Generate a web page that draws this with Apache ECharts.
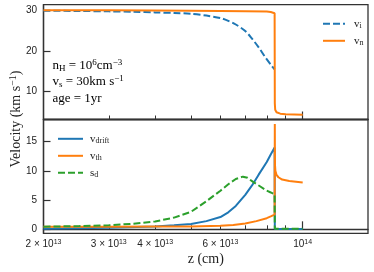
<!DOCTYPE html>
<html><head><meta charset="utf-8">
<script src="https://cdn.jsdelivr.net/npm/echarts@6/dist/echarts.min.js"></script>
<style>html,body{margin:0;padding:0;background:#fff}#c{width:374px;height:272px}</style>
</head><body><div id="c"></div>
<script>
// ---- data (z in cm, velocities in km/s) ----
const zIon = [2e13, 2.5e13, 3e13, 3.5e13, 4e13, 4.5e13, 5e13, 5.5e13, 6e13, 6.3e13, 6.6e13, 7e13, 7.3e13, 7.6e13, 7.9e13, 8.2e13, 8.4e13];
const vIon = [29.9, 29.85, 29.75, 29.65, 29.5, 29.35, 29.15, 28.7, 28.1, 27.4, 26.5, 24.9, 23.0, 20.9, 18.6, 16.6, 15.4];

const zNeutral = [2e13, 3e13, 4e13, 5e13, 6e13, 7e13, 8e13, 8.2e13, 8.3e13, 8.4e13, 8.41e13, 8.43e13, 8.5e13, 8.7e13, 9e13, 1e14];
const vNeutral = [30.0, 30.0, 29.95, 29.9, 29.85, 29.8, 29.7, 29.6, 29.5, 29.3, 7.0, 5.4, 4.8, 4.45, 4.3, 4.2];

const zDrift = [2e13, 3e13, 4e13, 4.5e13, 5e13, 5.5e13, 6e13, 6.3e13, 6.6e13, 7e13, 7.3e13, 7.6e13, 8e13, 8.2e13, 8.4e13, 8.41e13, 1e14];
const vDrift = [0.1, 0.25, 0.5, 0.7, 0.9, 1.4, 2.1, 2.9, 4.0, 5.9, 7.5, 9.3, 11.5, 12.8, 14.0, 0.05, 0.05];

const zThermal = [2e13, 3e13, 4e13, 5e13, 6e13, 6.5e13, 7e13, 7.5e13, 8e13, 8.2e13, 8.4e13, 8.41e13, 8.415e13, 8.42e13, 8.44e13, 8.5e13, 8.6e13, 8.8e13, 9.2e13, 1e14];
const vThermal = [0.45, 0.45, 0.47, 0.5, 0.6, 0.75, 1.0, 1.4, 1.9, 2.2, 2.5, 18.0, 13.0, 11.0, 10.0, 9.3, 8.9, 8.5, 8.25, 8.0];

const zGrain = [2e13, 2.5e13, 3e13, 3.5e13, 4e13, 4.5e13, 5e13, 5.5e13, 6e13, 6.3e13, 6.6e13, 6.9e13, 7.1e13, 7.35e13, 7.65e13, 8e13, 8.2e13, 8.4e13, 8.41e13, 1e14];
const vGrain = [0.45, 0.55, 0.7, 0.95, 1.35, 2.0, 3.0, 4.8, 6.6, 7.7, 8.6, 9.0, 8.8, 8.1, 7.4, 6.6, 6.3, 6.0, 0.1, 0.1];

const xMinorTicks = [3e13, 4e13, 5e13, 6e13, 7e13, 8e13, 9e13];
const xMajorTicks = [1e14];
const xTickLabels = [2e13, 3e13, 4e13, 6e13, 1e14];
const yTopTicks = [10, 20, 30];
const yBottomTicks = [0, 5, 10, 15];

// ---- styling ----
const SERIF = 'Liberation Serif';
const SANS = 'Liberation Sans';
const C_BLUE = '#1f77b4', C_ORANGE = '#ff7f0e', C_GREEN = '#2ca02c';
const INK = '#222';
const SPINE = '#333';

const G = {left: 43.5, width: 324.5};
const gridTop = {left: G.left, width: G.width, top: 4.7, height: 114.8};
const gridBot = {left: G.left, width: G.width, top: 119.5, height: 113.8};
const gridAll = {left: G.left, width: G.width, top: 4.7, height: 228.6};

function pairs(zs, vs){ return zs.map((z,i)=>[z, vs[i]]); }
function sci(v){
  const e = Math.floor(Math.log10(v) + 1e-9);
  const m = Math.round(v / Math.pow(10, e));
  return m === 1 ? '{b|10}{s|' + e + '}' : '{b|' + m + ' × 10}{s|' + e + '}';
}
const textRich = (fs) => ({
  m: {fontFamily: SERIF, fontSize: fs, color: INK, lineHeight: fs + 2},
  sub: {fontFamily: SERIF, fontSize: Math.round(fs*0.7), color: INK, lineHeight: 6, verticalAlign: 'bottom'},
  sup: {fontFamily: SERIF, fontSize: Math.round(fs*0.7), color: INK, lineHeight: 6, verticalAlign: 'top'}
});
const legendNames = {
  vi: '{m|v}{sub|i}', vn: '{m|v}{sub|n}',
  vdrift: '{m|v}{sub|drift}', vth: '{m|v}{sub|th}', sd: '{m|s}{sub|d}'
};

function xAxisMain(gi, showLabels){
  return {
    type: 'log', logBase: 10, gridIndex: gi, min: 2e13, max: 1.5e14,
    position: 'bottom',
    axisLine: {show: true, lineStyle: {color: SPINE, width: 1.3}},
    axisTick: {show: true, inside: true, length: 4, customValues: xMinorTicks, lineStyle: {color: SPINE, width: 1}},
    axisLabel: {show: showLabels, customValues: xTickLabels, margin: 5, formatter: sci,
      rich: {b: {fontFamily: SANS, fontSize: 10, color: INK, lineHeight: 12},
             s: {fontFamily: SANS, fontSize: 7, color: INK, lineHeight: 6, verticalAlign: 'top'}}},
    splitLine: {show: false},
    name: showLabels ? 'z (cm)' : '', nameLocation: 'middle', nameGap: 19,
    nameTextStyle: {fontFamily: SERIF, fontSize: 14, color: INK}
  };
}
function xAxisMajor(gi){
  return {
    type: 'log', logBase: 10, gridIndex: gi, min: 2e13, max: 1.5e14, position: 'bottom',
    axisLine: {show: false},
    axisTick: {show: true, inside: true, length: 8, customValues: xMajorTicks, lineStyle: {color: SPINE, width: 1.2}},
    axisLabel: {show: false}, splitLine: {show: false}
  };
}
function yAxisMain(gi, min, max, ticks){
  return {
    type: 'value', gridIndex: gi, min: min, max: max,
    axisLine: {show: true, lineStyle: {color: SPINE, width: 1.3}},
    axisTick: {show: true, inside: true, length: 7, customValues: ticks, lineStyle: {color: SPINE, width: 1.2}},
    axisLabel: {show: true, customValues: ticks, margin: 6.5, fontFamily: SANS, fontSize: 10, color: INK},
    splitLine: {show: false}
  };
}

const option = {
  animation: false,
  backgroundColor: '#fff',
  grid: [
    Object.assign({show: true, borderColor: SPINE, borderWidth: 1.3, backgroundColor: 'transparent'}, gridTop),
    Object.assign({show: true, borderColor: SPINE, borderWidth: 1.3, backgroundColor: 'transparent'}, gridBot),
    Object.assign({show: false}, gridTop),
    Object.assign({show: false}, gridBot),
    Object.assign({show: false}, gridAll)
  ],
  xAxis: [xAxisMain(0, false), xAxisMain(1, true), xAxisMajor(2), xAxisMajor(3),
    {type: 'value', gridIndex: 4, show: false, min: 0, max: 1}],
  yAxis: [
    yAxisMain(0, 3, 31.4, yTopTicks),
    yAxisMain(1, -0.68, 18.77, yBottomTicks),
    {type: 'value', gridIndex: 2, min: 3, max: 31.4, show: false},
    {type: 'value', gridIndex: 3, min: -0.68, max: 18.77, show: false},
    {type: 'value', gridIndex: 4, min: 0, max: 1, show: true,
     axisLine: {show: false}, axisTick: {show: false}, axisLabel: {show: false}, splitLine: {show: false},
     name: '{m|Velocity (km s}{sup|−1}{m|)}', nameLocation: 'middle', nameGap: 31, nameRotate: 90,
     nameTextStyle: {rich: textRich(14)}}
  ],
  legend: [
    {data: ['vi', 'vn'], orient: 'vertical', left: 317, top: 13.3, itemWidth: 22, itemHeight: 10, itemGap: 5,
     selectedMode: false, formatter: n => legendNames[n], itemStyle: {color: 'rgba(0,0,0,0)', borderWidth: 0},
     textStyle: {rich: textRich(11), padding: [0,0,0,4]}},
    {data: ['vdrift', 'vth', 'sd'], orient: 'vertical', left: 52, top: 128.3, itemWidth: 25, itemHeight: 10, itemGap: 5,
     selectedMode: false, formatter: n => legendNames[n], itemStyle: {color: 'rgba(0,0,0,0)', borderWidth: 0},
     textStyle: {rich: textRich(11), padding: [0,0,0,2]}}
  ],
  series: [
    {name: 'vi', type: 'line', xAxisIndex: 0, yAxisIndex: 0, data: pairs(zIon, vIon), showSymbol: false, symbol: 'none', smooth: 0.3,
     lineStyle: {color: C_BLUE, width: 2, type: [7, 3]}, itemStyle: {color: C_BLUE}},
    {name: 'vn', type: 'line', xAxisIndex: 0, yAxisIndex: 0, data: pairs(zNeutral, vNeutral), showSymbol: false, symbol: 'none',
     lineStyle: {color: C_ORANGE, width: 2}, itemStyle: {color: C_ORANGE}},
    {name: 'vdrift', type: 'line', xAxisIndex: 1, yAxisIndex: 1, data: pairs(zDrift, vDrift), showSymbol: false, symbol: 'none',
     lineStyle: {color: C_BLUE, width: 2}, itemStyle: {color: C_BLUE}},
    {name: 'vth', type: 'line', xAxisIndex: 1, yAxisIndex: 1, data: pairs(zThermal, vThermal), showSymbol: false, symbol: 'none',
     lineStyle: {color: C_ORANGE, width: 2}, itemStyle: {color: C_ORANGE}},
    {name: 'sd', type: 'line', xAxisIndex: 1, yAxisIndex: 1, data: pairs(zGrain, vGrain), showSymbol: false, symbol: 'none',
     lineStyle: {color: C_GREEN, width: 2, type: [7, 3]}, itemStyle: {color: C_GREEN}}
  ],
  graphic: [
    {type: 'text', left: 52.5, top: 58.5, style: {text: '{m|n}{sub|H}{m| = 10}{sup|6}{m|cm}{sup|−3}', rich: textRich(13)}},
    {type: 'text', left: 52.5, top: 74.5, style: {text: '{m|v}{sub|s}{m| = 30km s}{sup|−1}', rich: textRich(13)}},
    {type: 'text', left: 52.5, top: 92.5, style: {text: '{m|age = 1yr}', rich: textRich(13)}}
  ]
};
const chart = echarts.init(document.getElementById('c'), null, {renderer: 'canvas'});
chart.setOption(option);
</script>
</body></html>
